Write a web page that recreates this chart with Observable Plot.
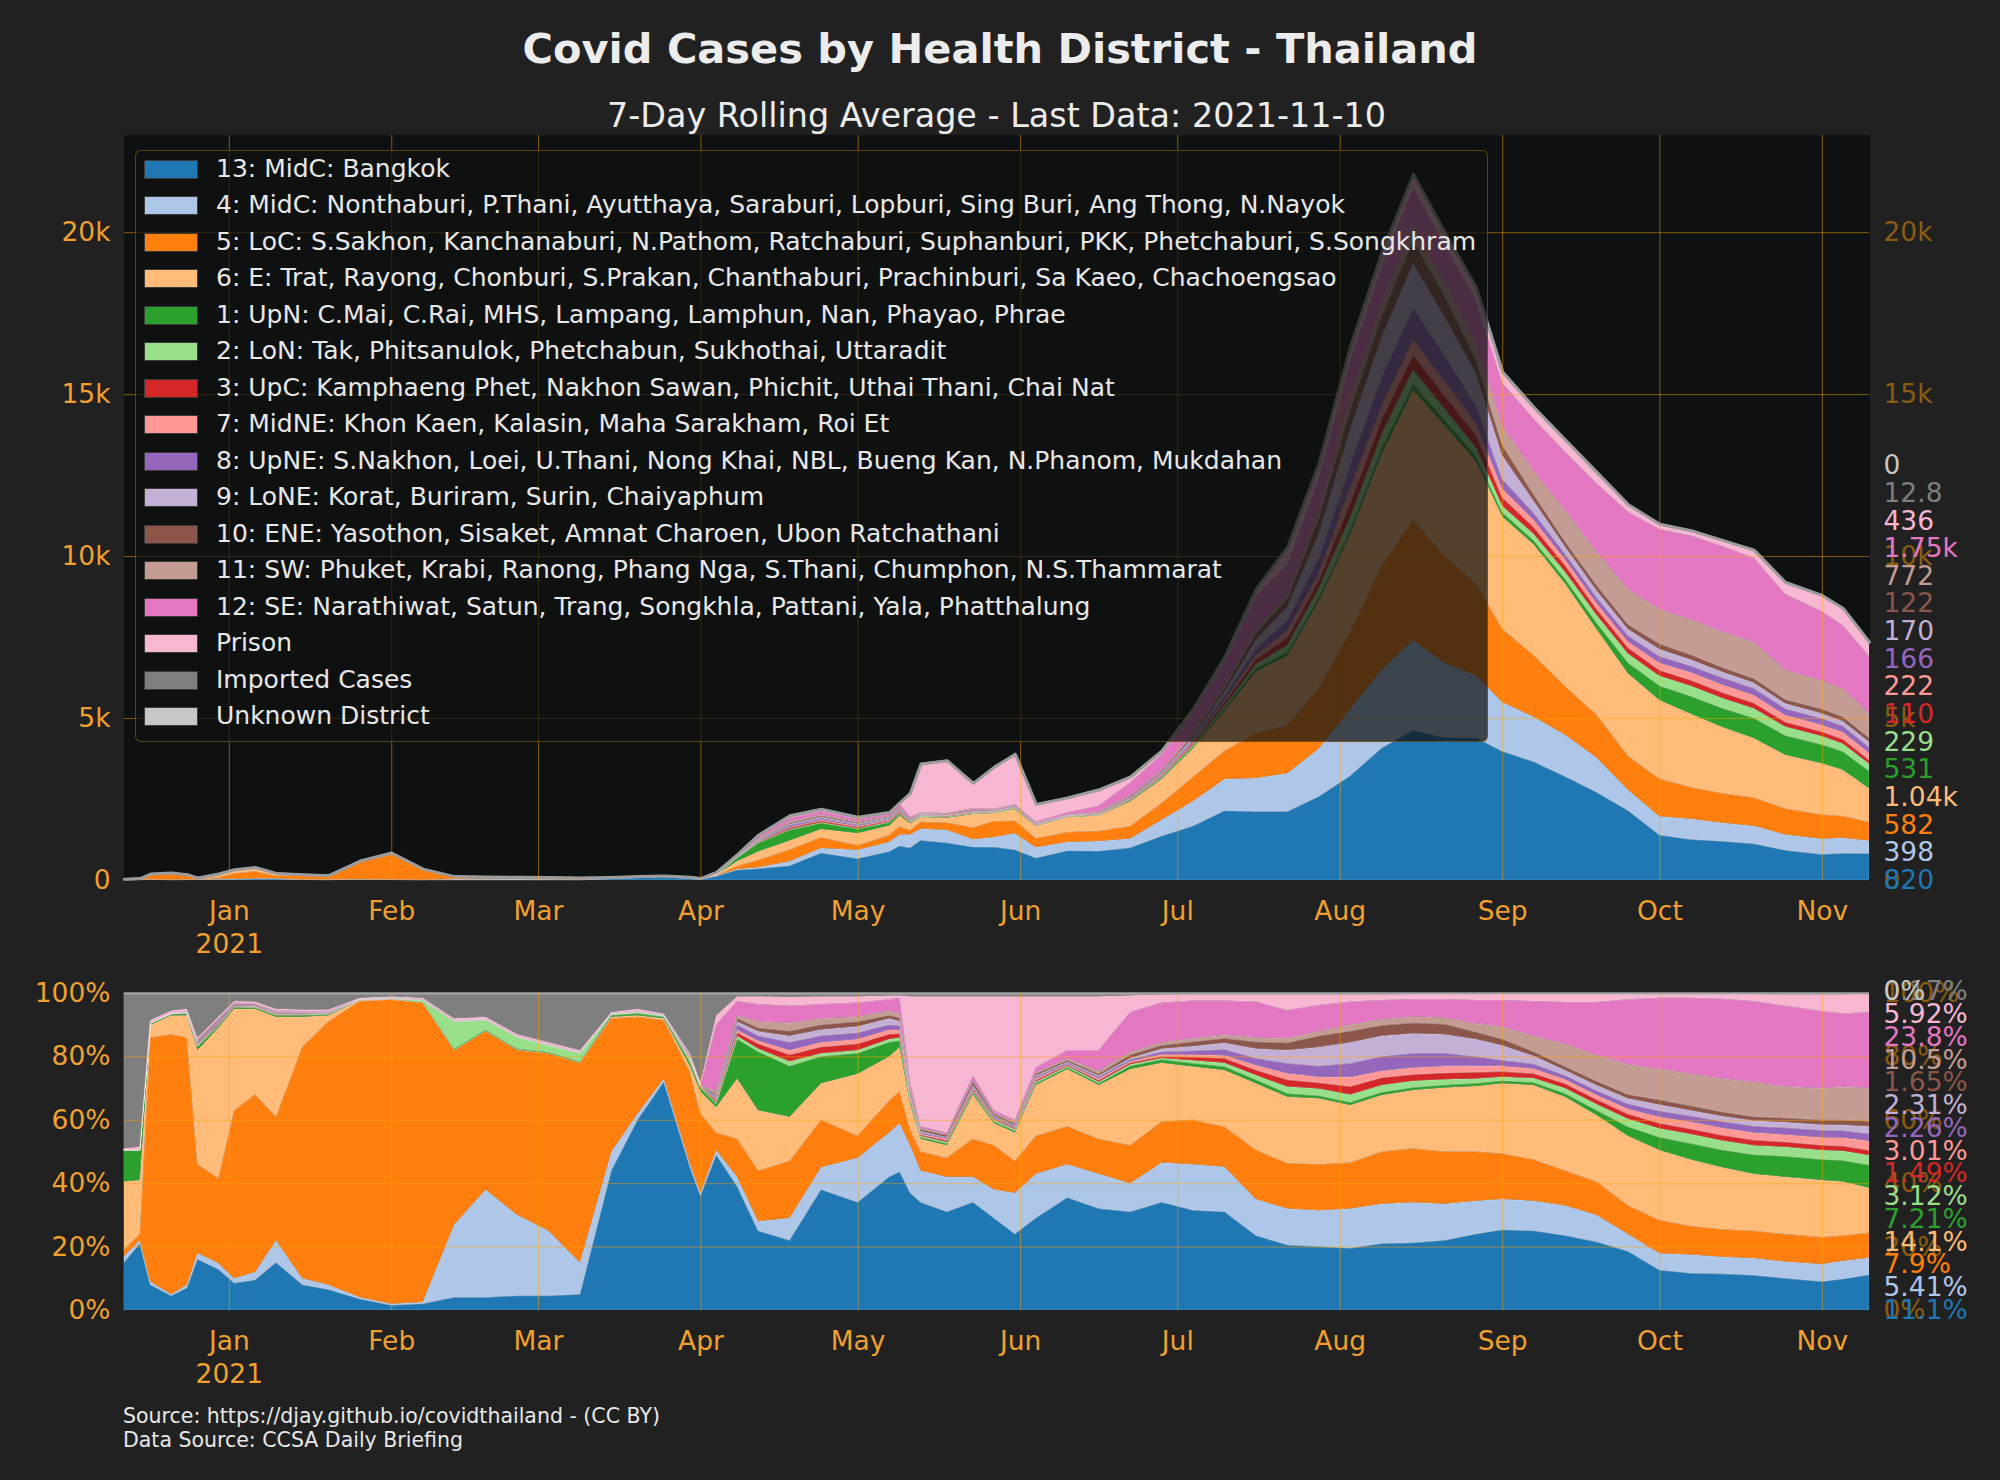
<!DOCTYPE html>
<html>
<head>
<meta charset="utf-8">
<script src="https://cdn.jsdelivr.net/npm/d3@7"></script>
<script src="https://cdn.jsdelivr.net/npm/@observablehq/plot@0.6"></script>
<style>
  html, body { margin:0; padding:0; background:#212121; }
  body { width:2000px; height:1480px; position:relative; overflow:hidden; font-family:"DejaVu Sans", sans-serif; }
  .abs { position:absolute; }
  #title { left:0; width:2000px; top:24px; text-align:center; font-size:41.5px; font-weight:bold; color:#ececec; line-height:49px; white-space:nowrap; }
  #subtitle { left:0; width:1993px; top:97px; text-align:center; font-size:33.4px; color:#ececec; line-height:38px; white-space:nowrap; }
  #topChart { left:0; top:100px; }
  #bottomChart { left:0; top:960px; }
  #legend { left:135px; top:150px; width:1351px; height:590px; background:rgba(16,18,18,0.72); border:1px solid rgba(160,100,20,0.55); border-radius:6px; }
  .row { position:absolute; left:0; width:100%; height:36.5px; font-size:25px; color:#e8e8e8; white-space:nowrap; }
  .sw { position:absolute; left:8px; width:52px; height:17px; border:1px solid #3a3a3a; box-sizing:content-box; }
  .lbl { position:absolute; left:80px; top:0; line-height:36.5px; }
  #source { left:123px; top:1404px; font-size:20.5px; line-height:24px; color:#e8e8e8; white-space:nowrap; }
</style>
</head>
<body>
<div id="title" class="abs">Covid Cases by Health District - Thailand</div>
<div id="subtitle" class="abs">7-Day Rolling Average - Last Data: 2021-11-10</div>
<div id="topChart" class="abs"></div>
<div id="bottomChart" class="abs"></div>
<div id="legend" class="abs"></div>
<div id="source" class="abs">Source: https://djay.github.io/covidthailand - (CC BY)<br>Data Source: CCSA Daily Briefing</div>
<script>
// ---------------- data ----------------
const dates = ["2020-12-12","2020-12-15","2020-12-17","2020-12-21","2020-12-24","2020-12-26","2020-12-30","2021-01-02","2021-01-06","2021-01-10","2021-01-15","2021-01-20","2021-01-26","2021-02-01","2021-02-07","2021-02-13","2021-02-19","2021-02-25","2021-03-03","2021-03-09","2021-03-15","2021-03-20","2021-03-25","2021-03-30","2021-04-01","2021-04-04","2021-04-08","2021-04-12","2021-04-18","2021-04-24","2021-05-01","2021-05-07","2021-05-09","2021-05-11","2021-05-13","2021-05-18","2021-05-23","2021-05-27","2021-05-31","2021-06-04","2021-06-10","2021-06-16","2021-06-22","2021-06-28","2021-07-04","2021-07-10","2021-07-16","2021-07-22","2021-07-28","2021-08-03","2021-08-09","2021-08-15","2021-08-21","2021-08-27","2021-09-01","2021-09-07","2021-09-13","2021-09-19","2021-09-25","2021-10-01","2021-10-07","2021-10-13","2021-10-19","2021-10-25","2021-11-01","2021-11-05","2021-11-10"];

// 7-day average of all cases (top chart stack height)
const totalCases = [40,60,200,230,180,80,200,330,400,220,180,150,600,850,350,120,110,100,90,80,90,120,140,100,60,250,800,1400,2000,2200,1950,2100,2400,2700,3600,3700,3000,3500,3900,2350,2550,2800,3200,4000,5300,6900,9000,10300,12900,16500,19400,21800,20000,18300,15700,14600,13600,12600,11600,11000,10800,10500,10200,9200,8800,8400,7361];

// share of cases (%) per district
const bangkok = [15,21,8,4.5,7,16,13,8.5,9.5,15,8,6.5,3.5,1.5,2,4,4,4.5,4.5,5,44,60,72,45,36,49,39,25,22,38,34,42,43.6,37,34,31,34,29,24,29,35.5,32,31,34,31.5,31,23.5,20.5,20,19.5,21,21.2,22,24,25.3,25,23.5,21.5,18.5,12.6,11.6,11.4,11,10,9,9.8,11.1];
const midCentral = [2,1,1,0.5,1,2,2,1.5,2.5,7,2,1.5,0.5,0.5,0.5,23,34,25.5,20.5,10,6,2,1,1,1,1.5,3,3,7,7,14,14,15.4,15,10,11,8,9,13,14,10.5,11,9,12.5,14.5,14.2,11.5,11.5,11.5,12.5,12.5,12.8,11.5,10.5,9.7,9.5,9.5,8.5,5.5,5.3,5.9,5.4,5.4,5.3,5.5,5.7,5.41];
const lowerCentral = [2,2,77,82,78,28,27,53,56,39,73,83,93.5,96,94.5,55,50,52,56,63,42,30.5,18.5,29,25,5.5,12,16,18,15,7,10,10,5,6,6,12,14,10,12,12,11,12,13,14,12.6,15.5,14.3,14.5,14.5,16.5,17,16.5,15.5,14.4,13,11,10.5,9,10.5,9,8.7,8.6,8.7,8.5,8,7.9];
const eastern = [21.5,17,4,6,7,36,48,32,27,31.5,9.5,2,0.2,0,0,0,0,0,0,0,0.5,0.5,0.5,2,7,8,19,19,14,11.5,19.5,14,14,8,4,4,14,7,9,16,18,17,24,18.5,16.8,17.9,21,21,20.8,18.2,17.8,18.4,20.2,20.7,22.1,23.5,23.3,21,22,22.1,21,19.5,18,18,18,17,14.1];
const upperNorth = [10,9.5,0.5,0.5,0.5,1,0.5,0.5,0.4,0.5,0.5,0.3,0.1,0.1,0.2,0.3,0.3,0.3,0.3,0.3,0.5,0.5,0.5,1,1,1,12.5,18.5,16,8.5,6.5,4.5,2,1,0.5,0.5,0.5,0.5,0.5,0.5,0.5,0.5,1,1,1,1.1,1.1,1,0.8,0.8,0.9,0.8,0.8,0.8,0.8,0.8,1,1.5,2.8,4,5,5.5,6,6.5,6.5,6.7,7.21];
const lowerNorth = [0,0,0,0,0.2,0.5,0.3,0.2,0.2,0.2,0.2,0.2,0.1,0.2,0.5,8.7,3.2,3.7,2.2,2.7,0.3,0.5,0.3,1,0.5,0.5,1,1,1.5,1,1,1,1,0.5,0.5,0.5,0.5,0.5,0.5,0.5,0.5,0.5,0.5,0.5,1,1.2,1.5,2.2,2.3,2.5,2.3,2.1,1.8,1.5,1.3,1.4,1.7,2,2.5,2.8,3,3,3,3,3,3,3.12];
const upperCentral = [0,0,0,0,0,0.1,0.2,0.1,0.1,0.1,0.1,0.1,0,0,0,0,0,0,0,0,0,0,0,0.2,0.1,0.5,1,1.5,2,2,2,1.5,1.2,0.5,0.3,0.5,0.5,0.3,0.3,0.5,0.3,0.5,0.5,0.5,1,1.4,1.6,2.1,1.8,2.5,2.3,2,2,2,1.6,1.4,1.4,1.4,1.5,1.6,1.6,1.6,1.6,1.5,1.5,1.5,1.49];
const midNortheast = [0,0,0,0,0.1,0.3,0.3,0.2,0.2,0.2,0.2,0.1,0.1,0.1,0.1,0.1,0.1,0.1,0.1,0.1,0.1,0.1,0.1,0.2,0.1,0.5,1,1,1.5,1.5,1.5,1.5,1.2,0.5,0.3,0.5,0.5,0.3,0.3,0.5,0.3,0.5,0.5,0.7,0.8,1,1.6,2.1,1.9,3,2.2,2.2,2.2,2,1.8,1.6,1.4,1.5,1.7,2.1,2.3,2.4,2.4,2.4,2.5,2.7,3.01];
const upperNortheast = [0,0,0,0,0.2,0.4,0.5,0.3,0.3,0.3,0.3,0.2,0.1,0.1,0.1,0.1,0.1,0.1,0.1,0.1,0.1,0.1,0.1,0.2,0.1,0.5,1.5,1.5,2.5,2,2,1.5,1.3,0.5,0.4,0.3,0.5,0.4,0.4,0.5,0.4,0.5,0.5,0.8,1.2,1.8,2.1,3.1,3.4,4.3,4.5,4.5,4,3,1.8,1.4,1.2,1.3,1.5,1.8,1.8,2,2,2.1,2.2,2.2,2.26];
const lowerNortheast = [0,0,0,0,0,0.2,0.3,0.1,0.1,0.1,0.1,0.1,0,0,0,0,0,0,0,0,0,0,0,0.1,0,0.5,1,1.5,2,2,2,2,1.5,0.5,0.5,0.3,0.5,0.3,0.3,0.5,0.3,0.5,0.5,1,1.5,2.1,3.1,4.2,6,6.7,6.5,6.3,6,5.5,4.7,2.6,1.7,1.8,1.8,2,1.8,1.7,1.8,1.8,1.8,1.8,2.31];
const eastNortheast = [0,0,0,0,0.1,0.3,0.3,0.2,0.2,0.2,0.1,0.1,0.1,0.1,0.1,0.1,0.1,0.1,0.1,0.1,0.1,0.1,0.1,0.2,0.1,0.5,1,1,1.5,1.5,1.5,1,1,1,0.5,0.6,1,0.5,0.5,0.5,0.5,0.5,1,1,1.3,1.4,2.1,2.3,3.5,3.5,3.3,3.3,3.2,2.2,2,1.3,1.1,1.2,1.2,1.5,1.4,1.3,1.2,1.3,1.5,1.6,1.65];
const southWest = [0,0,0,0,0,0.1,0.2,0.1,0.1,0.1,0.1,0.1,0,0,0,0,0,0,0,0,0,0,0,0.1,0,1,1,2,2.5,2,1.5,1.5,1.3,1,0.5,0.3,0.5,0.5,0.4,0.5,0.5,1,1,1,1.1,1.1,1.4,1.4,1.5,2,2,2,2.1,2.7,3.9,5,7.2,8.3,9.5,9.7,10.1,10.5,11,9.9,10,10.4,10.5];
const southEast = [0,0,0,0,0.2,0.4,0.3,0.2,0.2,0.2,0.2,0.1,0.1,0.1,0.1,0.1,0.1,0.1,0.1,0.1,0.1,0.1,0.1,0.3,0.1,21,4.5,5.5,5.5,4.5,4.5,3.5,5,1.5,0.5,0.5,1.5,0.7,0.8,1.5,2.7,6.5,12.5,12.5,11.9,10.8,11.3,8.9,8.2,7.3,6,5.5,5.8,7.4,8.4,11,13.2,16.7,20.5,22.5,24,25.2,25.5,25.5,24.3,23.2,23.8];
const prison = [0.5,1,1,1,0.7,0.7,0.6,0.6,0.5,0.6,0.5,0.5,0.2,0.3,0.4,0.6,0.6,0.6,0.6,0.6,0.3,0.6,0.3,0.7,1,3,1.5,2.5,2.8,2.5,2,1.2,0.8,27,41,43,25,36,39,22.5,17,17,5.3,2.5,2,2,2.3,5,3.4,2.3,1.8,1.6,1.6,1.9,1.9,2.2,2.5,2.5,1.7,1.2,1.2,1.5,2.2,3.6,5.3,6,5.92];
const imported = [49,48.5,8.5,5.5,5,14,7.5,2.5,2.7,5,5.2,5.2,1.5,1,1.5,8,7.5,12.9,15.5,18,6,5,6.5,19,28,7,1,1,1.2,1,1,0.8,0.7,1,1,1,1,1,1,1,1,1,0.7,0.5,0.4,0.4,0.4,0.4,0.4,0.4,0.4,0.3,0.3,0.3,0.3,0.3,0.3,0.3,0.3,0.3,0.3,0.3,0.3,0.4,0.4,0.4,0.17];
const unknownDistrict = [0,0,0,0,0,0,0,0,0,0,0,0,0,0,0,0,0,0,0,0,0,0,0,0,0,0,0,0,0,0,0,0,0,0,0,0,0,0,0,0,0,0,0,0,0,0,0,0,0,0,0,0,0,0,0,0,0,0,0,0,0,0,0,0,0,0,0];

const districts = [
  "13: MidC: Bangkok",
  "4: MidC: Nonthaburi, P.Thani, Ayutthaya, Saraburi, Lopburi, Sing Buri, Ang Thong, N.Nayok",
  "5: LoC: S.Sakhon, Kanchanaburi, N.Pathom, Ratchaburi, Suphanburi, PKK, Phetchaburi, S.Songkhram",
  "6: E: Trat, Rayong, Chonburi, S.Prakan, Chanthaburi, Prachinburi, Sa Kaeo, Chachoengsao",
  "1: UpN: C.Mai, C.Rai, MHS, Lampang, Lamphun, Nan, Phayao, Phrae",
  "2: LoN: Tak, Phitsanulok, Phetchabun, Sukhothai, Uttaradit",
  "3: UpC: Kamphaeng Phet, Nakhon Sawan, Phichit, Uthai Thani, Chai Nat",
  "7: MidNE: Khon Kaen, Kalasin, Maha Sarakham, Roi Et",
  "8: UpNE: S.Nakhon, Loei, U.Thani, Nong Khai, NBL, Bueng Kan, N.Phanom, Mukdahan",
  "9: LoNE: Korat, Buriram, Surin, Chaiyaphum",
  "10: ENE: Yasothon, Sisaket, Amnat Charoen, Ubon Ratchathani",
  "11: SW: Phuket, Krabi, Ranong, Phang Nga, S.Thani, Chumphon, N.S.Thammarat",
  "12: SE: Narathiwat, Satun, Trang, Songkhla, Pattani, Yala, Phatthalung",
  "Prison",
  "Imported Cases",
  "Unknown District"
];
const colors = ["#1f77b4","#aec7e8","#ff7f0e","#ffbb78","#2ca02c","#98df8a","#d62728","#ff9896","#9467bd","#c5b0d5","#8c564b","#c49c94","#e377c2","#f7b6d2","#7f7f7f","#c7c7c7"];

// last-day values shown at the right edge
const lastValues = [820, 398, 582, 1040, 531, 229, 110, 222, 166, 170, 122, 772, 1750, 436, 12.8, 0];
const lastShares = [11.1, 5.41, 7.9, 14.1, 7.21, 3.12, 1.49, 3.01, 2.26, 2.31, 1.65, 10.5, 23.8, 5.92, 0.17, 0];

// ticks
const monthTicks = ["2021-01-01","2021-02-01","2021-03-01","2021-04-01","2021-05-01","2021-06-01","2021-07-01","2021-08-01","2021-09-01","2021-10-01","2021-11-01"];
const monthLabels = ["Jan\n2021","Feb","Mar","Apr","May","Jun","Jul","Aug","Sep","Oct","Nov"];
const countTicks = [0, 5000, 10000, 15000, 20000];
const countLabels = ["0","5k","10k","15k","20k"];
const shareTicks = [0, 0.2, 0.4, 0.6, 0.8, 1];
const shareLabels = ["0%","20%","40%","60%","80%","100%"];

// ---------------- build table ----------------
const shareSeries = [bangkok, midCentral, lowerCentral, eastern, upperNorth, lowerNorth, upperCentral, midNortheast, upperNortheast, lowerNortheast, eastNortheast, southWest, southEast, prison, imported, unknownDistrict];
const rows = [];
dates.forEach((ds, j) => {
  const sum = d3.sum(shareSeries, s => s[j]);
  shareSeries.forEach((s, k) => rows.push({date: new Date(ds), district: districts[k], value: s[j] / sum * totalCases[j]}));
});
const totalRows = dates.map((ds, j) => ({date: new Date(ds), total: totalCases[j]}));
const firstDate = new Date(dates[0]);
const lastDate = new Date(dates[dates.length - 1]);
const monthDates = monthTicks.map(d => new Date(d));

const ORANGE = "#f0a030", DIM = "#8a5c12", GRID = "#ffa500", BG = "#0d1111";
const FS = 26.5;
const fmtK = d3.format(".3~s");
const fmtP = v => d3.format(".3~r")(v) + "%";

const base = {
  width: 2000, marginLeft: 124, marginRight: 131,
  style: {background: "transparent", fontFamily: "'DejaVu Sans', sans-serif", fontSize: FS + "px", color: ORANGE, overflow: "visible"},
  x: {type: "utc", domain: [firstDate, lastDate]},
  color: {domain: districts, range: colors}
};

function commonMarks(yTicks, yLabels, gridYTicks) {
  return [
    Plot.gridX(monthDates, {stroke: GRID, strokeOpacity: 0.5, strokeWidth: 1}),
    Plot.gridY(gridYTicks, {stroke: GRID, strokeOpacity: 0.5, strokeWidth: 1}),
    Plot.axisX(monthDates, {tickSize: 0, tickPadding: 16, label: null, color: ORANGE, fontSize: FS, lineHeight: 1.24,
      tickFormat: d => monthLabels[monthDates.findIndex(t => +t === +d)]}),
    Plot.axisY(yTicks, {anchor: "left", tickSize: 0, tickPadding: 14, label: null, color: ORANGE, fontSize: FS,
      tickFormat: d => yLabels[yTicks.indexOf(d)]}),
    Plot.axisY(yTicks, {anchor: "right", tickSize: 0, tickPadding: 14, label: null, color: DIM, fontSize: FS,
      tickFormat: d => yLabels[yTicks.indexOf(d)]})
  ];
}

const topLabels = districts.map((d, i) => Plot.text([d], {
  x: () => lastDate, y: () => 0, text: () => fmtK(lastValues[i]),
  dx: 14, dy: -i * 27.65, textAnchor: "start", fill: colors[i], fontSize: FS
}));
const bottomLabels = districts.map((d, i) => Plot.text([d], {
  x: () => lastDate, y: () => 0, text: () => fmtP(lastShares[i]),
  dx: 14, dy: -Math.min(i, 14) * 22.77, textAnchor: "start", fill: colors[i], fontSize: FS
}));

const areaOpts = {x: "date", y: "value", z: "district", fill: "district", stroke: "white", strokeOpacity: 0.18, strokeWidth: 1, order: districts};

const topPlot = Plot.plot({
  ...base, height: 860, marginTop: 35, marginBottom: 80,
  y: {domain: [0, 23000]},
  marks: [
    Plot.frame({fill: BG, stroke: BG}),
    Plot.areaY(rows, areaOpts),
    Plot.lineY(totalRows, {x: "date", y: "total", stroke: "#9b9b9b", strokeWidth: 3}),
    ...commonMarks(countTicks, countLabels, countTicks.slice(1)),
    ...topLabels
  ]
});

const bottomPlot = Plot.plot({
  ...base, height: 430, marginTop: 33, marginBottom: 80,
  y: {domain: [0, 1]},
  marks: [
    Plot.frame({fill: BG, stroke: BG}),
    Plot.areaY(rows, {...areaOpts, offset: "normalize"}),
    Plot.ruleY([1], {stroke: "#a8a8a8", strokeWidth: 2}),
    ...commonMarks(shareTicks, shareLabels, shareTicks.slice(1, 5)),
    ...bottomLabels
  ]
});

document.getElementById("topChart").append(topPlot);
document.getElementById("bottomChart").append(bottomPlot);

// legend
const legend = document.getElementById("legend");
districts.forEach((name, i) => {
  const row = document.createElement("div");
  row.className = "row";
  row.style.top = (i * 36.5 - 0.25) + "px";
  const sw = document.createElement("div");
  sw.className = "sw";
  sw.style.background = colors[i];
  sw.style.top = "8.75px";
  const lb = document.createElement("span");
  lb.className = "lbl";
  lb.textContent = name;
  row.append(sw, lb);
  legend.append(row);
});
</script>
</body>
</html>
